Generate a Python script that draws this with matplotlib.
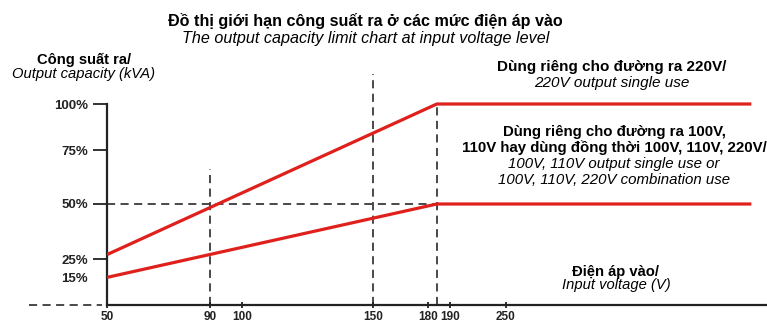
import matplotlib.pyplot as plt
import numpy as np

plt.rcParams['font.family'] = ['Liberation Sans', 'DejaVu Sans']

# Data
voltage = [50, 184, 297]
out_220v = [27, 100, 100]          # 220V output single use (%)
out_100v = [15, 50, 50]            # 100V/110V or combination use (%)

x_ticks = [50, 90, 100, 150, 180, 190, 250]
y_ticks = [25, 50, 75, 100]
y_tick_labels = ['25%', '50%', '75%', '100%']

# guide lines: (voltage, top %)
guides_v = [(90, 66), (150, 114), (184, 100)]

# the axes of the original drawing are not linear: knots value -> pixel
knot_v = np.array([50, 90, 100, 150, 180, 190, 250, 300])
knot_px = np.array([107, 210, 242, 373, 428, 450, 506, 767], dtype=float)
knot_pct = np.array([0, 25, 50, 75, 100, 114])
knot_py = np.array([0, 46, 101, 155, 201, 231], dtype=float)


def xfwd(v):
    return np.interp(v, knot_v, knot_px)


def xinv(p):
    return np.interp(p, knot_px, knot_v)


def yfwd(v):
    return np.interp(v, knot_pct, knot_py)


def yinv(p):
    return np.interp(p, knot_py, knot_pct)


red = '#e0201c'
dark = '#222222'
dash = dict(color='#3a3a3a', lw=1.3, linestyle=(0, (4.5, 3)))

fig = plt.figure(figsize=(7.67, 3.27), dpi=100)
ax = fig.add_axes([107 / 767, 22 / 327, 660 / 767, 231 / 327])
ax.set_xscale('function', functions=(xfwd, xinv))
ax.set_yscale('function', functions=(yfwd, yinv))
ax.set_xlim(50, 300)
ax.set_ylim(0, 114)

# dashed guides
for v, top in guides_v:
    ax.plot([v, v], [0, top], **dash, zorder=1)
ax.plot([50, 184], [50, 50], **dash, zorder=1)
ax.plot([-0.118, -0.008], [0, 0], transform=ax.get_yaxis_transform(),
        clip_on=False, **dash)

# limit lines
ax.plot(voltage, out_220v, color=red, lw=2.3, solid_capstyle='butt', zorder=3)
ax.plot(voltage, out_100v, color=red, lw=2.3, solid_capstyle='butt', zorder=3)

# axes styling
for s in ['top', 'right']:
    ax.spines[s].set_visible(False)
ax.spines['left'].set_bounds(0, 100)
for s in ['left', 'bottom']:
    ax.spines[s].set_linewidth(1.6)
    ax.spines[s].set_color(dark)

ax.set_yticks(y_ticks, labels=y_tick_labels)
ax.set_yticks([15], labels=['15%'], minor=True)
ax.set_xticks(x_ticks, labels=[str(v) for v in x_ticks])
ax.xaxis.set_minor_locator(plt.NullLocator())
ax.tick_params(axis='y', which='major', length=10, width=1.3, pad=3.5,
               color=dark, labelsize=9.5)
ax.tick_params(axis='y', which='minor', length=0, pad=13.5, labelsize=9.5)
ax.tick_params(axis='x', direction='inout', length=4.5, width=1.3, pad=2,
               color=dark, labelsize=8.5)
for lab in ax.get_xticklabels() + ax.get_yticklabels() + ax.get_yticklabels(minor=True):
    lab.set_fontweight('bold')
    lab.set_color(dark)

# titles and labels
fig.text(0.477, 1 - 21 / 327, 'Đồ thị giới hạn công suất ra ở các mức điện áp vào',
         ha='center', va='center', fontsize=11.6, fontweight='bold')
fig.text(0.477, 1 - 39 / 327, 'The output capacity limit chart at input voltage level',
         ha='center', va='center', fontsize=11.6, style='italic')

fig.text(84 / 767, 1 - 60 / 327, 'Công suất ra/', ha='center', va='center',
         fontsize=10.6, fontweight='bold')
fig.text(84 / 767, 1 - 74 / 327, 'Output capacity (kVA)', ha='center', va='center',
         fontsize=10.6, style='italic')

fig.text(612 / 767, 1 - 67 / 327, 'Dùng riêng cho đường ra 220V/', ha='center',
         va='center', fontsize=11, fontweight='bold')
fig.text(612 / 767, 1 - 83 / 327, '220V output single use', ha='center',
         va='center', fontsize=11, style='italic')

mid_lines = [('Dùng riêng cho đường ra 100V,', 'bold'),
             ('110V hay dùng đồng thời 100V, 110V, 220V/', 'bold'),
             ('100V, 110V output single use or', 'italic'),
             ('100V, 110V, 220V combination use', 'italic')]
for i, (txt, kind) in enumerate(mid_lines):
    kw = {'fontweight': 'bold'} if kind == 'bold' else {'style': 'italic'}
    fig.text(614 / 767, 1 - (132 + 16 * i) / 327, txt, ha='center', va='center',
             fontsize=10.8, **kw)

fig.text(616 / 767, 1 - 272 / 327, 'Điện áp vào/', ha='center', va='center',
         fontsize=10.6, fontweight='bold')
fig.text(616 / 767, 1 - 285 / 327, 'Input voltage (V)', ha='center', va='center',
         fontsize=10.6, style='italic')

fig.savefig('out.png', dpi=100)
